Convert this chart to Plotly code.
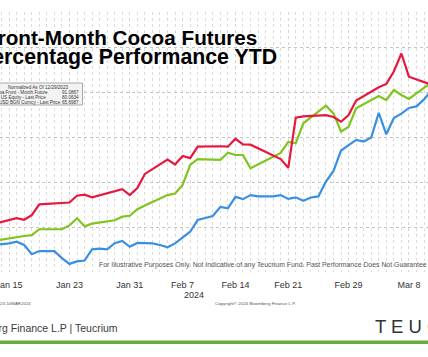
import plotly.graph_objects as go
import pandas as pd

# ---------------- data (normalized, 12/29/2023 = 100) ----------------
trade_dates = ["2024-01-12", "2024-01-16", "2024-01-17", "2024-01-18", "2024-01-19",
               "2024-01-22", "2024-01-23", "2024-01-24", "2024-01-25", "2024-01-26",
               "2024-01-29", "2024-01-30", "2024-01-31", "2024-02-01", "2024-02-02",
               "2024-02-05", "2024-02-06", "2024-02-07", "2024-02-08", "2024-02-09",
               "2024-02-12", "2024-02-13", "2024-02-14", "2024-02-15", "2024-02-16",
               "2024-02-20", "2024-02-21", "2024-02-22", "2024-02-23",
               "2024-02-26", "2024-02-27", "2024-02-28", "2024-02-29", "2024-03-01",
               "2024-03-04", "2024-03-05", "2024-03-06", "2024-03-07", "2024-03-08",
               "2024-03-11"]
nvda_vals = [110.5, 113.9, 113.2, 115.3, 120.1, 120.5, 120.9, 123.9, 124.4, 123.2,
             126.1, 126.8, 124.2, 127.3, 133.6, 140.0, 137.8, 141.6, 140.6, 145.7,
             145.9, 145.7, 149.2, 146.7, 146.6, 140.2, 136.3, 158.6, 159.2,
             159.7, 158.9, 156.8, 159.8, 166.2, 172.1, 173.6, 179.1, 187.1, 176.8,
             173.2]
cocoa_vals = [103.3, 105.7, 106.0, 106.4, 109.0, 109.0, 110.7, 113.9, 110.3, 111.5,
              113.0, 114.6, 115.0, 117.9, 119.6, 124.2, 124.9, 128.7, 137.6, 140.2,
              139.8, 143.0, 142.0, 142.0, 136.1, 142.9, 147.8, 147.2, 156.1,
              163.9, 160.5, 152.4, 154.6, 162.8, 168.2, 166.4, 170.9, 168.7, 166.9,
              174.3]
btc_dates = pd.date_range("2024-01-13", "2024-03-11", freq="D")
btc_vals = [102.0, 102.4, 102.7, 103.5, 102.0, 97.9, 99.3, 99.3, 99.3, 96.2,
            93.6, 94.7, 95.1, 100.1, 100.4, 100.1, 102.8, 103.8, 101.2,
            102.9, 102.7, 102.7, 102.0, 101.0, 102.7, 105.1, 107.9, 113.1, 114.0,
            114.9, 118.9, 118.3, 123.4, 122.4, 124.2, 123.6, 123.6, 123.6, 124.2,
            122.5, 123.2, 121.7, 123.1, 123.6, 130.2, 134.9, 144.0, 146.2,
            148.7, 148.0, 149.8, 160.7, 151.2, 158.4, 160.4, 162.9, 163.6, 166.7,
            170.9]

tick_dates = ["2024-01-15", "2024-01-23", "2024-01-31", "2024-02-07",
              "2024-02-14", "2024-02-21", "2024-02-29", "2024-03-08"]
tick_labels = ["Jan 15", "Jan 23", "Jan 31", "Feb 7", "Feb 14", "Feb 21", "Feb 29", "Mar 8"]
y_grid = [90, 110, 130, 150, 170, 190]

legend_rows = [("Cocoa Front - Month Future", "91.0867"),
               ("NVDA US Equity - Last Price", "80.0634"),
               ("XBTUSD BGN Curncy - Last Price", "65.6987")]

# ---------------- figure ----------------
W, H = 428, 357
RED, GREEN, BLUE = "#e8173f", "#80c41e", "#3a8fe3"
SANS = "Liberation Sans, Arial, sans-serif"

fig = go.Figure()
fig.add_trace(go.Scatter(x=btc_dates, y=btc_vals, mode="lines", name="XBTUSD BGN Curncy",
                         line=dict(color=BLUE, width=2.2)))
fig.add_trace(go.Scatter(x=trade_dates, y=cocoa_vals, mode="lines", name="Cocoa Front-Month",
                         line=dict(color=GREEN, width=2.2)))
fig.add_trace(go.Scatter(x=trade_dates, y=nvda_vals, mode="lines", name="NVDA US Equity",
                         line=dict(color=RED, width=2.2)))


def px(x):
    return x / W


def py(y):
    return (H - y) / H


anns = []


def txt(s, x, y, size, color="#222", xanchor="left", family=SANS):
    anns.append(dict(text=s, x=px(x), y=py(y), xref="paper", yref="paper",
                     xanchor=xanchor, yanchor="middle", showarrow=False,
                     font=dict(size=size, color=color, family=family)))


# title (right-anchored so the left edge is cut like the reference)
txt("<b>Front-Month Cocoa Futures</b>", 259, 38, 20.7, "#000", "right")
txt("<b>Percentage Performance YTD</b>", 279, 57, 21.3, "#000", "right")

# legend box text
txt("Normalized As Of 12/29/2023", 38, 87.5, 4.6, "#333", "center")
label_ends = [50, 48, 63]
for i, (lab, val) in enumerate(legend_rows):
    yy = 93 + i * 4.8
    txt(lab, label_ends[i], yy, 4.6, "#333", "right")
    txt(val, 81, yy, 4.6, "#333", "right")

# footnote inside plot
txt("For Illustrative Purposes Only. Not Indicative of any Teucrium Fund. "
    "Past Performance Does Not Guarantee Future Results.", 97, 265, 6.9, "#555", "left")

# year under axis
txt("2024", 194, 294.5, 9, "#333", "center")

# tiny source lines
txt("29DEC2023-10MAR2024", 33, 303.5, 4.4, "#555", "right")
txt("Copyright\u00a9 2024 Bloomberg Finance L.P.", 213, 303.5, 4.4, "#555", "left")

# footer
txt("Source: Bloomberg Finance L.P | Teucrium", 120, 328, 10.5, "#3a3a3a", "right")
txt("T E U C R I U M", 373, 326, 18.5, "#333", "left")

shapes = [
    dict(type="rect", xref="paper", yref="paper", x0=px(-3), x1=px(82.5),
         y0=py(105), y1=py(83), fillcolor="#f3f3f3", line=dict(color="#a8a8a8", width=1),
         layer="above"),
    dict(type="rect", xref="paper", yref="paper", x0=0, x1=1,
         y0=py(344), y1=py(340.5), fillcolor="#6aaa40", line=dict(width=0)),
]

fig.update_layout(
    width=W, height=H, template="none",
    margin=dict(l=0, r=0, t=0, b=0, autoexpand=False),
    paper_bgcolor="white", plot_bgcolor="white",
    showlegend=False,
    annotations=anns, shapes=shapes,
    xaxis=dict(
        type="date", domain=[0, 1],
        range=["2024-01-13 19:03", "2024-03-10 12:40"],
        tickmode="array", tickvals=tick_dates, ticktext=tick_labels,
        ticks="outside", ticklen=4, tickcolor="rgba(0,0,0,0)",
        tickfont=dict(size=9, color="#333", family=SANS),
        ticklabeloverflow="allow",
        showgrid=True, gridcolor="#d4d4d4", griddash="dot", gridwidth=1,
        minor=dict(dtick=86400000, tick0="2024-01-01", showgrid=True,
                   gridcolor="#dcdcdc", griddash="dot", gridwidth=1),
        showline=False, zeroline=False, automargin=False, fixedrange=True,
    ),
    yaxis=dict(
        domain=[(H - 272) / H, (H - 12) / H],
        range=[90, 205.56],
        tickmode="array", tickvals=y_grid, showticklabels=False,
        showgrid=True, gridcolor="#c4c4c4", griddash="dot", gridwidth=1,
        showline=False, zeroline=False, automargin=False, fixedrange=True,
    ),
)

fig.write_html("out.html", config={"displayModeBar": False},
               post_script="document.body.style.margin='0';document.body.style.overflow='hidden';")
